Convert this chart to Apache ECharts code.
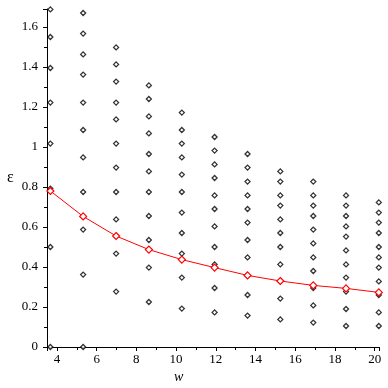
<!DOCTYPE html>
<html>
<head>
<meta charset="utf-8">
<script src="https://cdn.jsdelivr.net/npm/echarts@6/dist/echarts.min.js"></script>
<style>
  html, body { margin: 0; padding: 0; background: #fff; }
  #chart { width: 388px; height: 388px; }
</style>
</head>
<body>
<div id="chart"></div>
<script>
// w positions of the point columns
const wValues = [3.67, 5.32, 6.98, 8.63, 10.29, 11.94, 13.60, 15.25, 16.91, 18.56, 20.21];

// black dots, one list per column (epsilon values)
const dots = [
  [1.688, 1.55, 1.395, 1.222, 1.017, 0.792, 0.5, 0],
  [1.67, 1.567, 1.463, 1.362, 1.222, 1.085, 0.948, 0.775, 0.587, 0.362, 0],
  [1.498, 1.413, 1.327, 1.222, 1.138, 1.017, 0.897, 0.775, 0.638, 0.467, 0.277],
  [1.308, 1.24, 1.153, 1.068, 0.965, 0.878, 0.775, 0.655, 0.535, 0.397, 0.225],
  [1.172, 1.085, 1.017, 0.948, 0.862, 0.775, 0.672, 0.57, 0.467, 0.347, 0.192],
  [1.05, 0.982, 0.913, 0.845, 0.758, 0.69, 0.603, 0.5, 0.413, 0.295, 0.173],
  [0.965, 0.897, 0.827, 0.758, 0.69, 0.622, 0.535, 0.448, 0.358, 0.26, 0.157],
  [0.878, 0.827, 0.758, 0.707, 0.638, 0.57, 0.5, 0.413, 0.328, 0.242, 0.138],
  [0.827, 0.758, 0.707, 0.655, 0.587, 0.518, 0.448, 0.38, 0.295, 0.208, 0.122],
  [0.758, 0.707, 0.655, 0.603, 0.552, 0.483, 0.413, 0.347, 0.277, 0.19, 0.105],
  [0.723, 0.672, 0.622, 0.57, 0.5, 0.448, 0.397, 0.328, 0.26, 0.173, 0.105]
];

// red curve
const redEps = [0.78, 0.653, 0.555, 0.487, 0.437, 0.397, 0.358, 0.33, 0.308, 0.293, 0.273];

const dotData = [];
dots.forEach(function (col, i) {
  col.forEach(function (e) {
    dotData.push([wValues[i], e]);
  });
});
const redData = wValues.map(function (w, i) { return [w, redEps[i]]; });

const font = "'Liberation Serif', 'DejaVu Serif', serif";

const myChart = echarts.init(document.getElementById("chart"));
myChart.setOption({
  animation: false,
  grid: { left: 47, right: 9, top: 9, bottom: 41 },
  xAxis: {
    type: "value",
    min: 3.5,
    max: 20.22,
    splitNumber: 8,
    splitLine: { show: false },
    axisLine: { onZero: false, lineStyle: { color: "#000", width: 1 } },
    axisTick: { inside: false, length: 4, lineStyle: { color: "#000" } },
    minorTick: { show: true, splitNumber: 2, length: 3, lineStyle: { color: "#000" } },
    axisLabel: {
      color: "#000", fontFamily: font, fontSize: 13, margin: 6,
      showMinLabel: false, showMaxLabel: false
    }
  },
  yAxis: {
    type: "value",
    min: 0,
    max: 1.69,
    interval: 0.2,
    splitLine: { show: false },
    axisLine: { onZero: false, lineStyle: { color: "#000", width: 1 } },
    axisTick: { inside: false, length: 4, lineStyle: { color: "#000" } },
    minorTick: { show: true, splitNumber: 2, length: 3, lineStyle: { color: "#000" } },
    axisLabel: {
      color: "#000", fontFamily: font, fontSize: 13, margin: 9,
      showMaxLabel: false
    }
  },
  graphic: [
    {
      type: "text", left: 174, top: 370,
      style: { text: "w", font: "italic 14px " + font, fill: "#000" }
    },
    {
      type: "text", left: 7, top: 170,
      style: { text: "ε", font: "16px " + font, fill: "#000" }
    }
  ],
  series: [
    {
      name: "points",
      type: "scatter",
      symbol: "diamond",
      symbolSize: 5,
      itemStyle: { color: "#fff", borderColor: "#000", borderWidth: 1.3 },
      data: dotData,
      z: 2
    },
    {
      name: "curve",
      type: "line",
      symbol: "diamond",
      symbolSize: 7,
      showAllSymbol: true,
      lineStyle: { color: "#f00", width: 1 },
      itemStyle: { color: "#fff", borderColor: "#f00", borderWidth: 1.2 },
      data: redData,
      z: 3
    }
  ]
});
</script>
</body>
</html>
